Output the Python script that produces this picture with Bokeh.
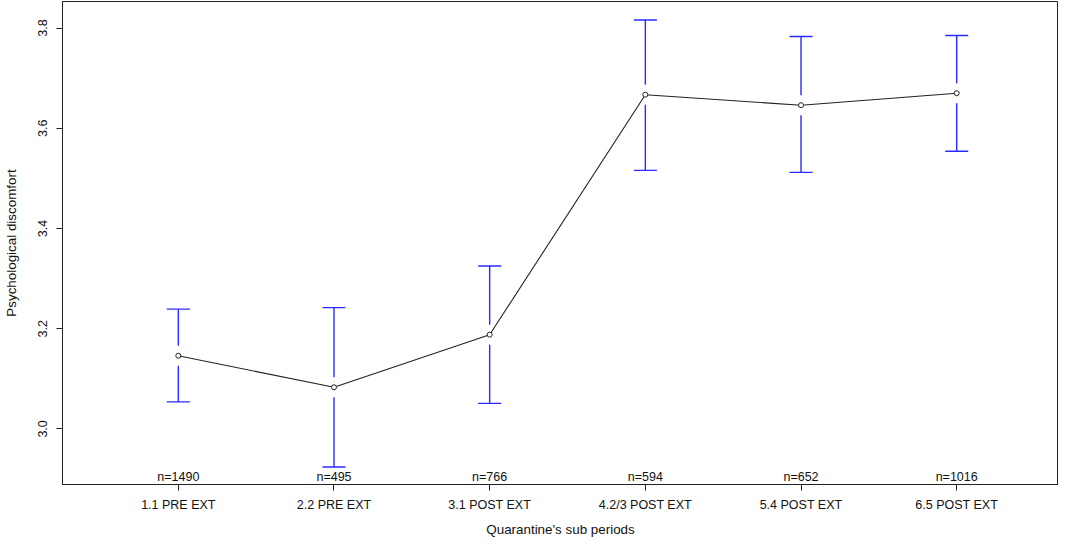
from bokeh.plotting import figure
from bokeh.models import Range1d, FixedTicker, ColumnDataSource
from bokeh.core.properties import value
from bokeh.embed import file_html
from bokeh.resources import INLINE

categories = ["1.1 PRE EXT", "2.2 PRE EXT", "3.1 POST EXT", "4.2/3 POST EXT", "5.4 POST EXT", "6.5 POST EXT"]
means = [3.146, 3.083, 3.188, 3.667, 3.646, 3.670]
upper = [3.239, 3.242, 3.325, 3.816, 3.783, 3.785]
lower = [3.054, 2.924, 3.051, 3.516, 3.512, 3.554]
ns = [1490, 495, 766, 594, 652, 1016]
y_ticks = [3.0, 3.2, 3.4, 3.6, 3.8]

FONT = "Liberation Sans"
GAP = 0.02
Y_START, Y_END = 2.889, 3.853

xs = list(range(1, len(categories) + 1))
src = ColumnDataSource(dict(
    x=xs, mean=means, up=upper, lo=lower,
    up_gap=[m + GAP for m in means], lo_gap=[m - GAP for m in means],
    ylab=[Y_START] * len(xs), nlab=["n=%d" % n for n in ns],
))

p = figure(width=1058, height=539, output_backend="svg", toolbar_location=None,
           x_range=Range1d(0.256, 6.654), y_range=Range1d(Y_START, Y_END),
           min_border_left=60, min_border_right=0, min_border_top=1, min_border_bottom=53)
p.background_fill_color = "white"
p.border_fill_color = "white"
p.outline_line_color = "#222222"
p.outline_line_width = 1
p.xgrid.visible = False
p.ygrid.visible = False

# error bars with a gap around the point
p.segment(x0="x", y0="up_gap", x1="x", y1="up", source=src, line_color="#2a2aff", line_width=1.4)
p.segment(x0="x", y0="lo_gap", x1="x", y1="lo", source=src, line_color="#2a2aff", line_width=1.4)
p.scatter(x="x", y="up", source=src, marker="dash", size=23, line_color="#2a2aff", line_width=1.4)
p.scatter(x="x", y="lo", source=src, marker="dash", size=23, line_color="#2a2aff", line_width=1.4)

p.line(x="x", y="mean", source=src, line_color="#222222", line_width=1.1)
p.scatter(x="x", y="mean", source=src, marker="circle", size=5, fill_color="white",
          line_color="#222222", line_width=1)

p.text(x="x", y="ylab", text="nlab", source=src, text_align="center", text_baseline="bottom",
       y_offset=-1, text_font=value(FONT), text_font_size="12.5px", text_color="#111111")

ax = p.xaxis[0]
ax.ticker = FixedTicker(ticks=xs)
ax.major_label_overrides = {x: c for x, c in zip(xs, categories)}
ax.axis_label = "Quarantine's sub periods"
ay = p.yaxis[0]
ay.ticker = FixedTicker(ticks=y_ticks)
ay.major_label_overrides = {t: "%.1f" % t for t in y_ticks}
ay.axis_label = "Psychological discomfort"
ay.major_label_orientation = "vertical"

for a in (ax, ay):
    a.axis_line_color = "#222222"
    a.major_tick_line_color = "#222222"
    a.major_tick_out = 6
    a.major_tick_in = 0
    a.minor_tick_line_color = None
    a.major_label_text_font = FONT
    a.major_label_text_font_size = "12.5px"
    a.major_label_text_color = "#111111"
    a.axis_label_text_font = FONT
    a.axis_label_text_font_size = "13.4px"
    a.axis_label_text_font_style = "normal"
    a.axis_label_text_color = "#111111"

ax.major_label_standoff = 7
ax.axis_label_standoff = 7
ay.major_label_standoff = 9
ay.axis_label_standoff = 17

open("out.html", "w").write(file_html(p, INLINE))
